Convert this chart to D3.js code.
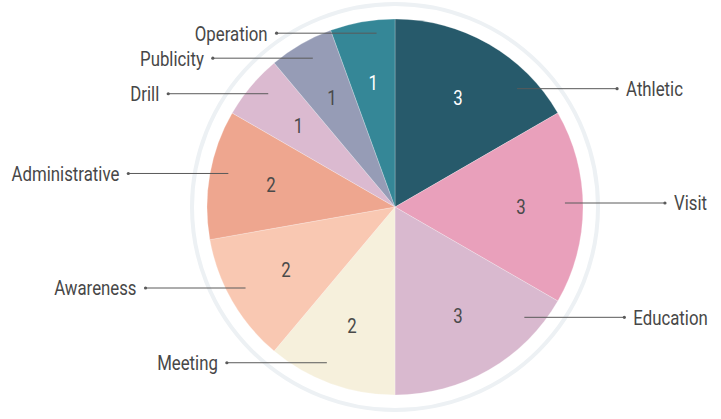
<!DOCTYPE html>
<html lang="en">
  <head>
    <meta charset="UTF-8" />
    <title>Activity Pie</title>
    <script src="https://d3js.org/d3.v7.min.js"></script>
    <style>
      body { margin: 0; background: #fff; }
      text { font-family: "Liberation Sans Narrow", "Roboto", sans-serif; }
    </style>
  </head>
  <body>
    <svg width="721" height="419"></svg>

    <script>
      // data
      var categories = ["Athletic", "Visit", "Education", "Meeting", "Awareness",
                        "Administrative", "Drill", "Publicity", "Operation"];
      var values = [3, 3, 3, 2, 2, 2, 1, 1, 1];
      var colors = ["#275a6b", "#e9a0bb", "#d9b9cf", "#f6f0dc", "#f9c8b2",
                    "#eea68f", "#dbbad0", "#969cb6", "#358797"];

      var svg = d3.select("svg");
      var cx = 395, cy = 207, R = 188;
      var narrow = 0.8; // squeeze text to look like the condensed face

      var data = categories.map(function (c, i) {
        return { name: c, value: values[i] };
      });

      var pie = d3.pie().sort(null).value(function (d) { return d.value; });
      var arcs = pie(data);

      var color = d3.scaleOrdinal().domain(categories).range(colors);

      var arc = d3.arc().innerRadius(0).outerRadius(R);
      var labelArc = d3.arc().innerRadius(126).outerRadius(126);

      var g = svg.append("g").attr("transform", "translate(" + cx + "," + cy + ")");

      // outer thin ring
      g.append("circle")
        .attr("r", 203)
        .attr("fill", "none")
        .attr("stroke", "#edf1f4")
        .attr("stroke-width", 4);

      g.selectAll("path.slice")
        .data(arcs)
        .enter()
        .append("path")
        .attr("class", "slice")
        .attr("d", arc)
        .attr("fill", function (d) { return color(d.data.name); })
        .attr("stroke", "#ffffff")
        .attr("stroke-opacity", 0.4)
        .attr("stroke-width", 0.6);

      // value numbers inside slices
      g.selectAll("text.val")
        .data(arcs)
        .enter()
        .append("text")
        .attr("class", "val")
        .attr("transform", function (d) {
          return "translate(" + labelArc.centroid(d) + ") scale(" + narrow + ",1)";
        })
        .attr("text-anchor", "middle")
        .attr("dy", "0.35em")
        .attr("font-size", 21)
        .attr("fill", function (d) {
          return d3.lab(color(d.data.name)).l < 62 ? "#ffffff" : "#4a4a4a";
        })
        .text(function (d) { return d.data.value; });

      // outside labels: y from mid angle, then spread so they don't collide
      var labels = arcs.map(function (d) {
        var mid = (d.startAngle + d.endAngle) / 2;
        var right = mid < Math.PI;
        var rY = right ? 132 : 170;
        return { d: d, mid: mid, right: right, y: -rY * Math.cos(mid) - 4 };
      });

      [true, false].forEach(function (side) {
        var list = labels.filter(function (l) { return l.right === side; })
          .sort(function (a, b) { return a.y - b.y; });
        for (var k = 0; k < 20; k++) {
          for (var i = 1; i < list.length; i++) {
            var gap = list[i].y - list[i - 1].y;
            if (gap < 25) {
              var push = (25 - gap) / 2;
              list[i].y += push;
              list[i - 1].y -= push;
            }
          }
        }
      });

      var rStart = 170, lineLen = 100;
      labels.forEach(function (l) {
        var dy = Math.min(Math.abs(l.y), rStart - 1);
        var dx = Math.sqrt(rStart * rStart - dy * dy);
        l.x0 = l.right ? dx : -dx;
        l.x1 = l.right ? l.x0 + lineLen : l.x0 - lineLen;
      });

      var lab = g.selectAll("g.lab")
        .data(labels)
        .enter()
        .append("g")
        .attr("class", "lab");

      lab.append("line")
        .attr("x1", function (l) { return l.x0; })
        .attr("x2", function (l) { return l.x1; })
        .attr("y1", function (l) { return l.y; })
        .attr("y2", function (l) { return l.y; })
        .attr("stroke", "#5a5a5a")
        .attr("stroke-width", 1);

      lab.append("circle")
        .attr("cx", function (l) { return l.x1; })
        .attr("cy", function (l) { return l.y; })
        .attr("r", 1.6)
        .attr("fill", "#5a5a5a");

      lab.append("text")
        .attr("transform", function (l) {
          var x = l.right ? l.x1 + 9 : l.x1 - 9;
          return "translate(" + x + "," + l.y + ") scale(" + narrow + ",1)";
        })
        .attr("dy", "0.35em")
        .attr("text-anchor", function (l) { return l.right ? "start" : "end"; })
        .attr("font-size", 21)
        .attr("fill", "#474747")
        .text(function (l) { return l.d.data.name; });
    </script>
  </body>
</html>
